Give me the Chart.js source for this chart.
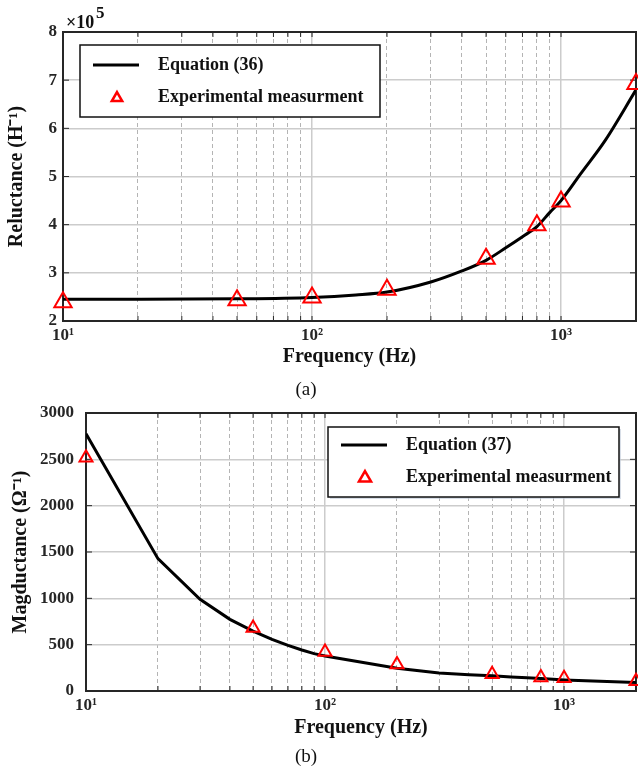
<!DOCTYPE html>
<html>
<head>
<meta charset="utf-8">
<script src="https://cdn.jsdelivr.net/npm/chart.js@4.4.1/dist/chart.umd.min.js"></script>
<style>
  body { margin: 0; background: #fff; }
  #page { position: relative; width: 638px; height: 768px; }
  canvas { position: absolute; left: 0; }
  .cap { position: absolute; width: 60px; left: 276px; text-align: center;
         font: 19px 'Liberation Serif', 'Times New Roman', serif; color: #111; }
</style>
</head>
<body>
<div id="page">
  <canvas id="chartA" width="638" height="400" style="top:0"></canvas>
  <canvas id="chartB" width="638" height="368" style="top:400px"></canvas>
  <div class="cap" style="top:378px">(a)</div>
  <div class="cap" style="top:745px">(b)</div>
</div>
<script>
// tick positions on the log frequency axis
const xMajor = [10, 100, 1000];
const xMajorLabels = ['10¹', '10²', '10³'];
const xMinor = [20, 30, 40, 50, 60, 70, 80, 90, 200, 300, 400, 500, 600, 700, 800, 900, 2000];

// (a) reluctance, H^-1
const freqLineA = [10, 20, 50, 100, 150, 200, 300, 400, 500, 600, 700, 800, 900, 1000, 1200, 1500, 2000];
const relLine = [2.45e5, 2.45e5, 2.46e5, 2.49e5, 2.54e5, 2.60e5, 2.81e5, 3.04e5, 3.26e5, 3.52e5, 3.75e5, 3.96e5, 4.25e5, 4.50e5, 5.06e5, 5.74e5, 6.80e5];
const freqMeasA = [10, 50, 100, 200, 500, 800, 1000, 2000];
const relMeas = [2.39e5, 2.43e5, 2.49e5, 2.65e5, 3.29e5, 3.99e5, 4.48e5, 6.92e5];

// (b) magductance, ohm^-1
const freqLineB = [10, 20, 30, 40, 50, 60, 70, 80, 90, 100, 200, 300, 400, 500, 600, 700, 800, 900, 1000, 2000];
const magLine = [2777, 1428, 989, 773, 647, 557, 493, 442, 403, 378, 246, 195, 175, 165, 152, 143, 134, 127, 120, 91];
const freqMeasB = [10, 50, 100, 200, 500, 800, 1000, 2000];
const magMeas = [2518, 680, 420, 285, 181, 145, 138, 105];

const SERIF = "'Liberation Serif', 'Times New Roman', serif";
Chart.defaults.font.family = SERIF;
Chart.defaults.color = '#262626';

const pts = (xs, ys) => xs.map((x, i) => ({ x: x, y: ys[i] }));

// matlab style box with inward ticks
const framePlugin = {
  id: 'frame',
  beforeDatasetsDraw(chart) {
    const { ctx, chartArea: a, scales } = chart;
    ctx.save();
    ctx.strokeStyle = '#262626';
    ctx.lineWidth = 1;
    ctx.beginPath();
    [scales.x, scales.x2].forEach(s => s.ticks.forEach(t => {
      const px = s.getPixelForValue(t.value);
      ctx.moveTo(px, a.bottom); ctx.lineTo(px, a.bottom - 5);
      ctx.moveTo(px, a.top); ctx.lineTo(px, a.top + 5);
    }));
    scales.y.ticks.forEach(t => {
      const py = scales.y.getPixelForValue(t.value);
      ctx.moveTo(a.left, py); ctx.lineTo(a.left + 6, py);
      ctx.moveTo(a.right, py); ctx.lineTo(a.right - 6, py);
    });
    ctx.stroke();
    ctx.lineWidth = 2;
    ctx.strokeRect(a.left, a.top, a.right - a.left, a.bottom - a.top);
    ctx.restore();
  }
};

function triangle(ctx, x, y, r) {
  ctx.beginPath();
  for (let k = 0; k < 3; k++) {
    const ang = k * 2 * Math.PI / 3;
    const px = x + Math.sin(ang) * r, py = y - Math.cos(ang) * r;
    if (k === 0) ctx.moveTo(px, py); else ctx.lineTo(px, py);
  }
  ctx.closePath();
  ctx.stroke();
}

const boxLegend = {
  id: 'boxLegend',
  afterDraw(chart, args, o) {
    const { ctx, chartArea: a } = chart;
    const x0 = o.fromRight ? a.right - o.dx - o.w : a.left + o.dx;
    const y0 = a.top + o.dy;
    ctx.save();
    if (o.shadow) {
      ctx.fillStyle = 'rgba(190,200,215,0.6)';
      ctx.fillRect(x0 + 2, y0 + 2, o.w, o.h);
    }
    ctx.fillStyle = '#fff';
    ctx.fillRect(x0, y0, o.w, o.h);
    ctx.strokeStyle = '#111';
    ctx.lineWidth = 1.5;
    ctx.strokeRect(x0, y0, o.w, o.h);
    const meas = chart.data.datasets[0], eq = chart.data.datasets[1];
    ctx.strokeStyle = eq.borderColor;
    ctx.lineWidth = 3;
    ctx.beginPath();
    ctx.moveTo(x0 + 13, y0 + o.row1); ctx.lineTo(x0 + 59, y0 + o.row1);
    ctx.stroke();
    ctx.strokeStyle = meas.borderColor;
    ctx.lineWidth = 2.5;
    triangle(ctx, x0 + 37, y0 + o.row2 + 1, o.tri);
    ctx.fillStyle = '#111';
    ctx.font = 'bold 18px ' + SERIF;
    ctx.textBaseline = 'middle';
    ctx.fillText(eq.label, x0 + 78, y0 + o.row1);
    ctx.fillText(meas.label, x0 + 78, y0 + o.row2);
    if (o.exponent) {
      ctx.font = 'bold 18px ' + SERIF;
      ctx.fillText('×10', a.left + 3, a.top - 9);
      ctx.font = 'bold 17px ' + SERIF;
      ctx.fillText(o.exponent, a.left + 33, a.top - 18);
    }
    ctx.restore();
  }
};

function makeChart(id, cfg) {
  return new Chart(document.getElementById(id), {
    type: 'scatter',
    data: {
      datasets: [
        {
          label: 'Experimental measurment',
          data: pts(cfg.measX, cfg.measY),
          pointStyle: 'triangle',
          pointRadius: cfg.markR,
          pointBorderWidth: 2,
          borderColor: '#ff0000',
          pointBorderColor: '#ff0000',
          pointBackgroundColor: 'rgba(0,0,0,0)',
          showLine: false,
          clip: false,
          order: 0
        },
        {
          label: cfg.eqLabel,
          data: pts(cfg.lineX, cfg.lineY),
          showLine: true,
          borderColor: '#000',
          borderWidth: 3,
          pointRadius: 0,
          tension: cfg.smooth ? 0.4 : 0,
          cubicInterpolationMode: cfg.smooth ? 'monotone' : 'default',
          order: 1
        }
      ]
    },
    options: {
      responsive: false,
      animation: false,
      events: [],
      layout: { autoPadding: false, padding: { top: cfg.padTop, right: 2, left: 0, bottom: 0 } },
      scales: {
        x: {
          type: 'logarithmic',
          position: 'bottom',
          min: 10, max: 2000,
          afterBuildTicks: s => { s.ticks = xMajor.map(v => ({ value: v })); },
          afterFit: s => { s.height = cfg.xHeight; },
          ticks: {
            autoSkip: false, maxRotation: 0, padding: 4,
            font: { size: 17, weight: 'bold' },
            callback: v => xMajorLabels[xMajor.indexOf(v)] || ''
          },
          grid: { color: '#cccccc', lineWidth: 1.5, drawTicks: false },
          border: { display: false },
          title: {
            display: true, text: 'Frequency (Hz)', color: '#111',
            font: { size: 20, weight: 'bold' },
            padding: { top: 0, bottom: cfg.xTitlePad }
          }
        },
        x2: {
          type: 'logarithmic',
          position: 'bottom',
          min: 10, max: 2000,
          afterBuildTicks: s => { s.ticks = xMinor.map(v => ({ value: v })); },
          afterFit: s => { s.height = 0; },
          ticks: { display: false },
          grid: { color: '#b4b4b4', lineWidth: 1, drawTicks: false, borderDash: [4, 3] },
          border: { display: false, dash: [4, 3] }
        },
        y: {
          type: 'linear',
          min: cfg.yMin, max: cfg.yMax,
          afterFit: s => { s.width = cfg.yWidth; s.paddingTop = 0; s.paddingBottom = 0; },
          ticks: {
            stepSize: cfg.yStep, padding: cfg.yTickPad,
            font: { size: 17, weight: 'bold' },
            callback: v => cfg.yScaleDiv ? v / cfg.yScaleDiv : v
          },
          grid: { color: '#cccccc', lineWidth: 1.5, drawTicks: false },
          border: { display: false },
          title: {
            display: true, text: cfg.yTitle, color: '#111',
            font: { size: 20, weight: 'bold' },
            padding: { top: cfg.yTitlePad, bottom: 0 }
          }
        }
      },
      plugins: {
        legend: { display: false },
        tooltip: { enabled: false },
        boxLegend: cfg.legend
      }
    },
    plugins: [framePlugin, boxLegend]
  });
}

makeChart('chartA', {
  measX: freqMeasA, measY: relMeas, lineX: freqLineA, lineY: relLine,
  eqLabel: 'Equation (36)', smooth: true, markR: 10,
  padTop: 32, xHeight: 79, xTitlePad: 31, yWidth: 63, yTickPad: 6, yTitlePad: 5,
  yMin: 2e5, yMax: 8e5, yStep: 1e5, yScaleDiv: 1e5,
  yTitle: 'Reluctance (H⁻¹)',
  legend: { dx: 17, dy: 13, w: 300, h: 72, row1: 20, row2: 52, tri: 6, exponent: '5' }
});

makeChart('chartB', {
  measX: freqMeasB, measY: magMeas, lineX: freqLineB, lineY: magLine,
  eqLabel: 'Equation (37)', smooth: false, markR: 7.5,
  padTop: 13, xHeight: 77, xTitlePad: 28, yWidth: 86, yTickPad: 12, yTitlePad: 9,
  yMin: 0, yMax: 3000, yStep: 500, yScaleDiv: 0,
  yTitle: 'Magductance (Ω⁻¹)',
  legend: { fromRight: true, dx: 17, dy: 14, w: 291, h: 70, row1: 18, row2: 50, tri: 7, shadow: true }
});
</script>
</body>
</html>
